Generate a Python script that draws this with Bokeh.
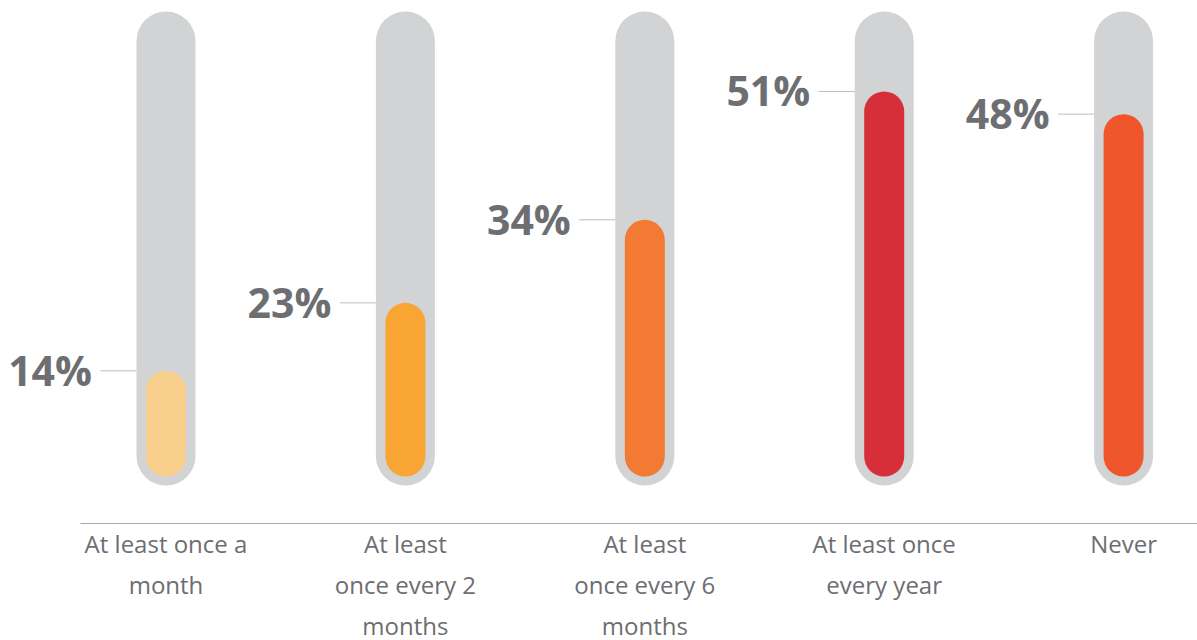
from bokeh.plotting import figure
from bokeh.models import Range1d, ColumnDataSource
from bokeh.core.properties import value
from bokeh.embed import file_html
from bokeh.resources import INLINE

categories = ["At least once a month", "At least once every 2 months",
              "At least once every 6 months", "At least once every year", "Never"]
tick_labels = ["At least once a\nmonth", "At least\nonce every 2\nmonths",
               "At least\nonce every 6\nmonths", "At least once\nevery year", "Never"]
values = [14, 23, 34, 51, 48]
colors = ["#f8cf8c", "#f9a533", "#f37a32", "#d62f39", "#f0562b"]
track_top = 61.6
track_bottom = -1.2

x_pos = list(range(len(categories)))
labels = [f"{v}%" for v in values]

PX_X = 239.4      # pixels per category
PX_Y = 7.55       # pixels per percent
x_start, x_end = -0.6913, 4.3087
y_start, y_end = -21.72, 63.05
axis_y = (476 - 523) / PX_Y
label_y = (476 - 526) / PX_Y

src = ColumnDataSource(dict(x=x_pos, v=values, c=colors, lab=labels,
                            tl=tick_labels,
                            lx0=[x - 0.1232 - 36 / PX_X for x in x_pos],
                            lx1=[x - 0.1232 for x in x_pos]))

p = figure(width=1197, height=640, output_backend="svg", toolbar_location=None,
           x_range=Range1d(x_start, x_end), y_range=Range1d(y_start, y_end),
           min_border=0)
p.outline_line_color = None
p.xgrid.visible = False
p.ygrid.visible = False
p.xaxis.visible = False
p.yaxis.visible = False
p.background_fill_color = "white"

# background tracks
p.vbar(x="x", width=59 / PX_X, top=track_top, bottom=track_bottom, source=src,
       fill_color="#d1d3d4", line_color=None, border_radius=30)
# value bars
p.vbar(x="x", width=40 / PX_X, top="v", bottom=0, source=src,
       fill_color="c", line_color=None, border_radius=20)
# leader lines
p.segment(x0="lx0", x1="lx1", y0="v", y1="v", source=src,
          line_color="#bcbec0", line_width=1)
# value labels
p.text(x="x", y="v", text="lab", source=src, x_offset=-74, y_offset=-1,
       text_align="right", text_baseline="middle",
       text_font=value("Open Sans"), text_font_style="bold",
       text_font_size="41px", text_color="#6d6e71")

# baseline axis line
p.segment(x0=[x_start + 80 / PX_X], x1=[x_end], y0=[axis_y], y1=[axis_y],
          line_color="#a7a9ac", line_width=1)
# category labels
p.text(x="x", y=label_y, text="tl", source=src,
       text_align="center", text_baseline="top", text_line_height=1.25,
       text_font=value("Open Sans"), text_font_size="24px", text_color="#6d6e71")

open("out.html", "w").write(file_html(p, INLINE))
